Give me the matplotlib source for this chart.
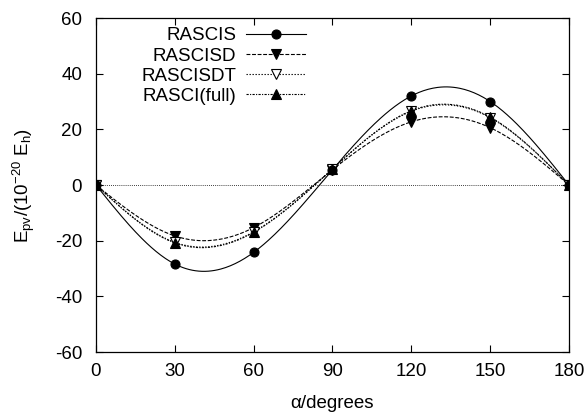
import numpy as np
import matplotlib.pyplot as plt

alpha = [0, 30, 60, 90, 120, 150, 180]
rascis = [0, -28.4, -24.2, 5.5, 32.0, 30.0, 0]
rascisd = [0, -18.3, -15.3, 5.5, 22.7, 20.6, 0]
rascisdt = [0, -20.6, -16.8, 5.8, 26.5, 24.2, 0]
rasci_full = [0, -20.8, -17.0, 5.8, 26.7, 24.4, 0]

labels = ['RASCIS', 'RASCISD', 'RASCISDT', 'RASCI(full)']


def csplines(x, y, n=300):
    # natural cubic spline, like gnuplot "smooth csplines"
    x = np.asarray(x, float)
    y = np.asarray(y, float)
    m = len(x)
    h = np.diff(x)
    A = np.zeros((m, m))
    b = np.zeros(m)
    A[0, 0] = A[-1, -1] = 1
    for i in range(1, m - 1):
        A[i, i - 1] = h[i - 1]
        A[i, i] = 2 * (h[i - 1] + h[i])
        A[i, i + 1] = h[i]
        b[i] = 6 * ((y[i + 1] - y[i]) / h[i] - (y[i] - y[i - 1]) / h[i - 1])
    M = np.linalg.solve(A, b)
    xs = np.linspace(x[0], x[-1], n)
    k = np.clip(np.searchsorted(x, xs) - 1, 0, m - 2)
    t = xs - x[k]
    hk = h[k]
    ys = (M[k] * (x[k + 1] - xs) ** 3 / (6 * hk) + M[k + 1] * t ** 3 / (6 * hk)
          + (y[k] / hk - M[k] * hk / 6) * (x[k + 1] - xs)
          + (y[k + 1] / hk - M[k + 1] * hk / 6) * t)
    return xs, ys


plt.rcParams['font.family'] = ['Liberation Sans', 'DejaVu Sans']
plt.rcParams['mathtext.fontset'] = 'custom'
plt.rcParams['mathtext.rm'] = 'Liberation Sans'
plt.rcParams['mathtext.it'] = 'Liberation Sans'
plt.rcParams['axes.unicode_minus'] = False

fig = plt.figure(figsize=(5.87, 4.12), dpi=100)
ax = fig.add_axes([0.1635, 0.1456, 0.8058, 0.8107])

series = [rascis, rascisd, rascisdt, rasci_full]
styles = [
    dict(ls='-', marker='o', mfc='black', ms=6.5, z=5),
    dict(ls=(0, (3.5, 1.5)), marker='v', mfc='black', ms=6.5, z=4),
    dict(ls=(0, (1.2, 1.5)), marker='v', mfc='white', ms=6.5, z=4),
    dict(ls=(0, (2, 1.2, 1, 1.2)), marker='^', mfc='black', ms=6.5, z=4),
]

handles = []
for vals, lab, st in zip(series, labels, styles):
    xs, ys = csplines(alpha, vals)
    ax.plot(xs, ys, color='black', lw=0.8, ls=st['ls'])
    ax.plot(alpha, vals, ls='none', marker=st['marker'], color='black',
            mfc=st['mfc'], mec='black', mew=0.8, ms=st['ms'], zorder=st['z'])
    h, = ax.plot([], [], color='black', lw=0.8, ls=st['ls'], marker=st['marker'],
                 mfc=st['mfc'], mec='black', mew=0.8, ms=st['ms'])
    handles.append(h)

ax.axhline(0, color='black', lw=0.6, ls=(0, (1, 1.5)))

ax.set_xlim(0, 180)
ax.set_ylim(-60, 60)
ax.set_xticks(range(0, 181, 30))
ax.set_yticks(range(-60, 61, 20))
ax.tick_params(direction='in', top=True, right=True, length=5, width=0.8,
               labelsize=13.5)
ax.tick_params(axis='x', pad=8)
ax.tick_params(axis='y', pad=10)
for s in ax.spines.values():
    s.set_linewidth(0.9)

ax.set_xlabel('α/degrees', fontsize=13.5, labelpad=11)
ax.set_ylabel('E$_{\\mathrm{pv}}$/(10$^{-20}$ E$_{\\mathrm{h}}$)', fontsize=13.5, labelpad=13)

leg = ax.legend(handles, labels, loc='upper right', bbox_to_anchor=(0.445, 0.972),
                frameon=False, markerfirst=False, fontsize=13.5, handlelength=3.2,
                handletextpad=0.55, labelspacing=0.16, borderpad=0, borderaxespad=0)

fig.savefig('out.png', dpi=100)
